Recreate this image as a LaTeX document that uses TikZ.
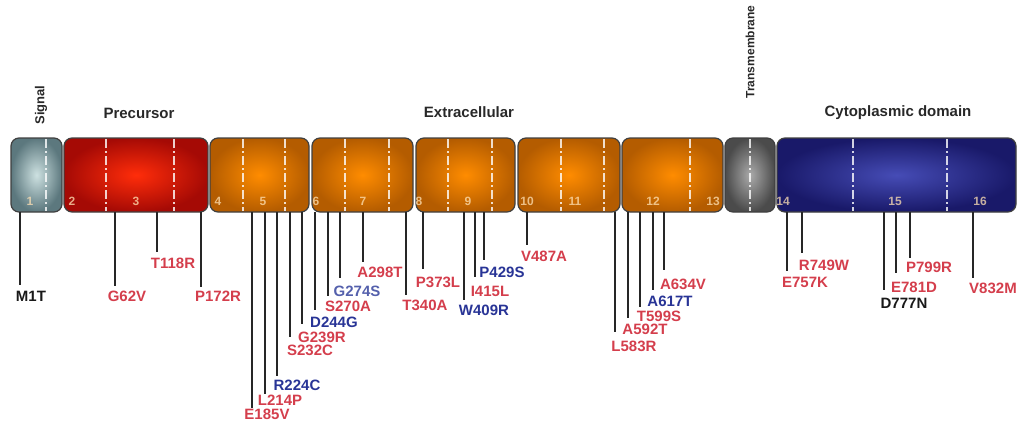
\documentclass[tikz,border=0pt]{standalone}
\usepackage{fontspec}
\setmainfont{Liberation Sans}
\usepackage{xcolor}
\usepackage{tikz}
\usetikzlibrary{positioning,calc}

\definecolor{mutred}{RGB}{212,62,76}
\definecolor{mutblue}{RGB}{40,52,150}
\definecolor{mutlblue}{RGB}{84,96,172}
\definecolor{mutblack}{RGB}{25,25,25}
\definecolor{headgray}{RGB}{40,40,40}
\definecolor{sigin}{RGB}{205,225,225}
\definecolor{sigout}{RGB}{92,120,126}
\definecolor{prein}{RGB}{255,45,10}
\definecolor{preout}{RGB}{165,10,5}
\definecolor{exin}{RGB}{255,140,0}
\definecolor{exout}{RGB}{180,92,0}
\definecolor{tmin}{RGB}{170,170,170}
\definecolor{tmout}{RGB}{75,75,75}
\definecolor{cytin}{RGB}{70,76,182}
\definecolor{cytout}{RGB}{25,25,105}
\definecolor{numcol}{RGB}{255,225,180}

\begin{document}
\begin{tikzpicture}[
            x=1pt, y=-1pt,
            every node/.style={font=\fontsize{15}{17}\selectfont\bfseries, inner sep=0pt},
            dom/.style={draw=black!75, line width=1.2pt, rounded corners=8pt, minimum height=74pt},
            exon/.style={white, opacity=0.8, line width=1.5pt, dash pattern=on 9pt off 3pt on 2pt off 3pt},
            num/.style={font=\fontsize{12}{13}\selectfont\bfseries, text=numcol, text opacity=0.75},
            mline/.style={black!85, line width=1.3pt},
            mut/.style={text=mutred},
            head/.style={text=headgray},
        ]
            \useasboundingbox (0,0) rectangle (1021,423);

            % domains
            \node[dom, minimum width=51pt, inner color=sigin, outer color=sigout] (sig) at (36.5,175) {};
            \node[dom, minimum width=144pt, inner color=prein, outer color=preout] (pre) at (136,175) {};
            \node[dom, minimum width=99pt, inner color=exin, outer color=exout] (ex1) at (259.5,175) {};
            \node[dom, minimum width=101pt, inner color=exin, outer color=exout] (ex2) at (362.5,175) {};
            \node[dom, minimum width=99pt, inner color=exin, outer color=exout] (ex3) at (465.5,175) {};
            \node[dom, minimum width=102pt, inner color=exin, outer color=exout] (ex4) at (569,175) {};
            \node[dom, minimum width=101pt, inner color=exin, outer color=exout] (ex5) at (672.5,175) {};
            \node[dom, minimum width=50pt, inner color=tmin, outer color=tmout] (tm) at (750,175) {};
            \node[dom, minimum width=239pt, inner color=cytin, outer color=cytout] (cyt) at (896.5,175) {};

            % exon borders
            \foreach \x in {46,106,174,243,285,345,389,448,492,561,604,690,750,853,947}
                \draw[exon] (\x,139) -- (\x,211);

            % exon numbers
            \foreach \nx/\t in {30/1,72/2,136/3,218/4,263/5,316/6,363/7,419/8,468/9,527/10,575/11,653/12,713/13,783/14,895/15,980/16}
                \node[num] (n\t) at (\nx,201) {\t};

            % headings
            \node[head, rotate=90, font=\fontsize{13}{15}\selectfont\bfseries] (hsig) at (41,105) {Signal};
            \node[head] (hpre) at (139,113) {Precursor};
            \node[head] (hext) at (469,112) {Extracellular};
            \node[head, rotate=90, font=\fontsize{12}{14}\selectfont\bfseries] (htm) at (750,52) {Transmembrane};
            \node[head] (hcyt) at (898,113) {Cytoplasmic domain};

            % mutations
            \coordinate (base) at (0,212);
            \foreach \mx/\my/\lx/\ly/\txt/\col [count=\i] in {
                20/285/31/296/M1T/mutblack, 115/286/127/296/G62V/mutred,
                157/252/173/263/T118R/mutred, 201/287/218/296/P172R/mutred,
                252/408/267/414/E185V/mutred, 265/394/280/400/L214P/mutred,
                277/376/297/385/R224C/mutblue, 290/337/310/350/S232C/mutred,
                302/324/322/337/G239R/mutred, 315/310/334/322/D244G/mutblue,
                328/296/348/306/S270A/mutred, 340/278/357/291/G274S/mutlblue,
                363/262/380/272/A298T/mutred, 406/295/425/305/T340A/mutred,
                423/269/438/282/P373L/mutred, 464/300/484/310/W409R/mutblue,
                475/277/490/291/I415L/mutred, 484/260/502/272/P429S/mutblue,
                527/245/544/256/V487A/mutred, 615/332/634/346/L583R/mutred,
                628/318/645/329/A592T/mutred, 640/307/659/316/T599S/mutred,
                653/290/670/301/A617T/mutblue, 664/270/683/284/A634V/mutred,
                802/253/824/265/R749W/mutred, 787/271/805/282/E757K/mutred,
                884/290/904/303/D777N/mutblack, 896/273/914/287/E781D/mutred,
                910/258/929/267/P799R/mutred, 973/278/993/288/V832M/mutred} {
                \coordinate (t\i) at (\mx,\my);
                \node[mut, text=\col] (m\i) at (\lx,\ly) {\txt};
                \draw[mline] (t\i |- base) -- (t\i);
            }
        \end{tikzpicture}
\end{document}
